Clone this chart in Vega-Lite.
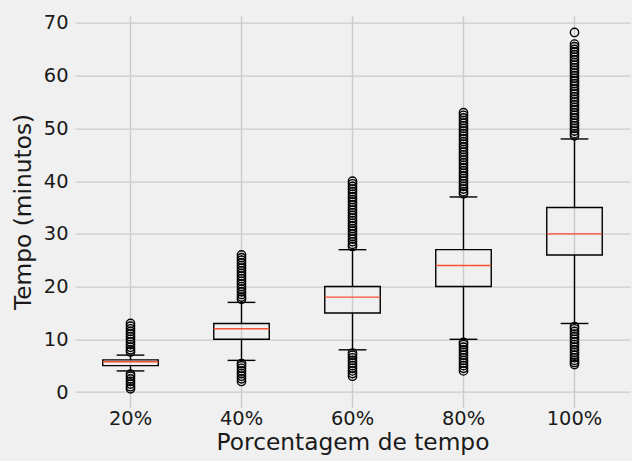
{
  "$schema": "https://vega.github.io/schema/vega-lite/v6.json",
  "width": 555,
  "height": 391.7,
  "autosize": {"type": "none"},
  "padding": {"left": 75, "top": 15.6, "right": 2, "bottom": 53.7},
  "background": "#f0f0f0",
  "config": {
    "view": {"stroke": null, "fill": "#f0f0f0"},
    "font": "DejaVu Sans",
    "axis": {
      "domain": false,
      "ticks": false,
      "grid": true,
      "gridColor": "#cbcbcb",
      "gridWidth": 1.4,
      "labelFont": "DejaVu Sans",
      "labelFontSize": 19.4,
      "labelColor": "#1a1a1a",
      "titleFont": "DejaVu Sans",
      "titleFontSize": 23.3,
      "titleFontWeight": "normal",
      "titleColor": "#1a1a1a"
    }
  },
  "datasets": {
    "stats": [
      {"pct": "20%", "lo": 4, "q1": 5, "med": 5.75, "q3": 6.1, "hi": 7},
      {"pct": "40%", "lo": 6, "q1": 10, "med": 12, "q3": 13, "hi": 17},
      {"pct": "60%", "lo": 8, "q1": 15, "med": 18, "q3": 20, "hi": 27},
      {"pct": "80%", "lo": 10, "q1": 20, "med": 24, "q3": 27, "hi": 37},
      {"pct": "100%", "lo": 13, "q1": 26, "med": 30, "q3": 35, "hi": 48}
    ],
    "fliers": [
      {"pct": "20%", "t": 0.6}, {"pct": "20%", "t": 1.0}, {"pct": "20%", "t": 1.5}, {"pct": "20%", "t": 2.0},
      {"pct": "20%", "t": 2.5}, {"pct": "20%", "t": 3.0}, {"pct": "20%", "t": 3.4},
      {"pct": "20%", "t": 7.6}, {"pct": "20%", "t": 8.0}, {"pct": "20%", "t": 8.5}, {"pct": "20%", "t": 9.0},
      {"pct": "20%", "t": 9.5}, {"pct": "20%", "t": 10.0}, {"pct": "20%", "t": 10.5}, {"pct": "20%", "t": 11.0},
      {"pct": "20%", "t": 11.5}, {"pct": "20%", "t": 12.0}, {"pct": "20%", "t": 12.5}, {"pct": "20%", "t": 13.0},

      {"pct": "40%", "t": 2.0}, {"pct": "40%", "t": 2.5}, {"pct": "40%", "t": 3.0}, {"pct": "40%", "t": 3.5},
      {"pct": "40%", "t": 4.0}, {"pct": "40%", "t": 4.5}, {"pct": "40%", "t": 5.0}, {"pct": "40%", "t": 5.4},
      {"pct": "40%", "t": 17.6}, {"pct": "40%", "t": 18.0}, {"pct": "40%", "t": 18.5}, {"pct": "40%", "t": 19.0},
      {"pct": "40%", "t": 19.5}, {"pct": "40%", "t": 20.0}, {"pct": "40%", "t": 20.5}, {"pct": "40%", "t": 21.0},
      {"pct": "40%", "t": 21.5}, {"pct": "40%", "t": 22.0}, {"pct": "40%", "t": 22.5}, {"pct": "40%", "t": 23.0},
      {"pct": "40%", "t": 23.5}, {"pct": "40%", "t": 24.0}, {"pct": "40%", "t": 24.5}, {"pct": "40%", "t": 25.0},
      {"pct": "40%", "t": 25.5}, {"pct": "40%", "t": 26.0},

      {"pct": "60%", "t": 3.0}, {"pct": "60%", "t": 3.5}, {"pct": "60%", "t": 4.0}, {"pct": "60%", "t": 4.5},
      {"pct": "60%", "t": 5.0}, {"pct": "60%", "t": 5.5}, {"pct": "60%", "t": 6.0}, {"pct": "60%", "t": 6.5},
      {"pct": "60%", "t": 7.0}, {"pct": "60%", "t": 7.4},
      {"pct": "60%", "t": 27.6}, {"pct": "60%", "t": 28.0}, {"pct": "60%", "t": 28.5}, {"pct": "60%", "t": 29.0},
      {"pct": "60%", "t": 29.5}, {"pct": "60%", "t": 30.0}, {"pct": "60%", "t": 30.5}, {"pct": "60%", "t": 31.0},
      {"pct": "60%", "t": 31.5}, {"pct": "60%", "t": 32.0}, {"pct": "60%", "t": 32.5}, {"pct": "60%", "t": 33.0},
      {"pct": "60%", "t": 33.5}, {"pct": "60%", "t": 34.0}, {"pct": "60%", "t": 34.5}, {"pct": "60%", "t": 35.0},
      {"pct": "60%", "t": 35.5}, {"pct": "60%", "t": 36.0}, {"pct": "60%", "t": 36.5}, {"pct": "60%", "t": 37.0},
      {"pct": "60%", "t": 37.5}, {"pct": "60%", "t": 38.0}, {"pct": "60%", "t": 38.5}, {"pct": "60%", "t": 39.0},
      {"pct": "60%", "t": 39.5}, {"pct": "60%", "t": 40.0},

      {"pct": "80%", "t": 4.0}, {"pct": "80%", "t": 4.5}, {"pct": "80%", "t": 5.0}, {"pct": "80%", "t": 5.5},
      {"pct": "80%", "t": 6.0}, {"pct": "80%", "t": 6.5}, {"pct": "80%", "t": 7.0}, {"pct": "80%", "t": 7.5},
      {"pct": "80%", "t": 8.0}, {"pct": "80%", "t": 8.5}, {"pct": "80%", "t": 9.0}, {"pct": "80%", "t": 9.4},
      {"pct": "80%", "t": 37.6}, {"pct": "80%", "t": 38.0}, {"pct": "80%", "t": 38.5}, {"pct": "80%", "t": 39.0},
      {"pct": "80%", "t": 39.5}, {"pct": "80%", "t": 40.0}, {"pct": "80%", "t": 40.5}, {"pct": "80%", "t": 41.0},
      {"pct": "80%", "t": 41.5}, {"pct": "80%", "t": 42.0}, {"pct": "80%", "t": 42.5}, {"pct": "80%", "t": 43.0},
      {"pct": "80%", "t": 43.5}, {"pct": "80%", "t": 44.0}, {"pct": "80%", "t": 44.5}, {"pct": "80%", "t": 45.0},
      {"pct": "80%", "t": 45.5}, {"pct": "80%", "t": 46.0}, {"pct": "80%", "t": 46.5}, {"pct": "80%", "t": 47.0},
      {"pct": "80%", "t": 47.5}, {"pct": "80%", "t": 48.0}, {"pct": "80%", "t": 48.5}, {"pct": "80%", "t": 49.0},
      {"pct": "80%", "t": 49.5}, {"pct": "80%", "t": 50.0}, {"pct": "80%", "t": 50.5}, {"pct": "80%", "t": 51.0},
      {"pct": "80%", "t": 51.5}, {"pct": "80%", "t": 52.0}, {"pct": "80%", "t": 52.5}, {"pct": "80%", "t": 53.0},

      {"pct": "100%", "t": 5.2}, {"pct": "100%", "t": 5.6}, {"pct": "100%", "t": 6.0}, {"pct": "100%", "t": 6.5},
      {"pct": "100%", "t": 7.0}, {"pct": "100%", "t": 7.5}, {"pct": "100%", "t": 8.0}, {"pct": "100%", "t": 8.5},
      {"pct": "100%", "t": 9.0}, {"pct": "100%", "t": 9.5}, {"pct": "100%", "t": 10.0}, {"pct": "100%", "t": 10.5},
      {"pct": "100%", "t": 11.0}, {"pct": "100%", "t": 11.5}, {"pct": "100%", "t": 12.0}, {"pct": "100%", "t": 12.4},
      {"pct": "100%", "t": 48.6}, {"pct": "100%", "t": 49.0}, {"pct": "100%", "t": 49.5}, {"pct": "100%", "t": 50.0},
      {"pct": "100%", "t": 50.5}, {"pct": "100%", "t": 51.0}, {"pct": "100%", "t": 51.5}, {"pct": "100%", "t": 52.0},
      {"pct": "100%", "t": 52.5}, {"pct": "100%", "t": 53.0}, {"pct": "100%", "t": 53.5}, {"pct": "100%", "t": 54.0},
      {"pct": "100%", "t": 54.5}, {"pct": "100%", "t": 55.0}, {"pct": "100%", "t": 55.5}, {"pct": "100%", "t": 56.0},
      {"pct": "100%", "t": 56.5}, {"pct": "100%", "t": 57.0}, {"pct": "100%", "t": 57.5}, {"pct": "100%", "t": 58.0},
      {"pct": "100%", "t": 58.5}, {"pct": "100%", "t": 59.0}, {"pct": "100%", "t": 59.5}, {"pct": "100%", "t": 60.0},
      {"pct": "100%", "t": 60.5}, {"pct": "100%", "t": 61.0}, {"pct": "100%", "t": 61.5}, {"pct": "100%", "t": 62.0},
      {"pct": "100%", "t": 62.5}, {"pct": "100%", "t": 63.0}, {"pct": "100%", "t": 63.5}, {"pct": "100%", "t": 64.0},
      {"pct": "100%", "t": 64.5}, {"pct": "100%", "t": 65.0}, {"pct": "100%", "t": 65.5}, {"pct": "100%", "t": 66.0},
      {"pct": "100%", "t": 68.2}
    ]
  },
  "encoding": {
    "x": {
      "field": "pct",
      "type": "nominal",
      "sort": ["20%", "40%", "60%", "80%", "100%"],
      "scale": {"type": "band", "paddingInner": 0.5, "paddingOuter": 0.25},
      "axis": {
        "title": "Porcentagem de tempo",
        "labelAngle": 0,
        "labelPadding": 2,
        "titlePadding": 4,
        "bandPosition": 0.5
      }
    }
  },
  "layer": [
    {
      "data": {"name": "stats"},
      "mark": {"type": "rule", "color": "black", "strokeWidth": 1.4},
      "encoding": {
        "y": {
          "field": "q3",
          "type": "quantitative",
          "scale": {"domain": [-2.9, 71.4], "nice": false, "zero": false},
          "axis": {
            "title": "Tempo (minutos)",
            "values": [0, 10, 20, 30, 40, 50, 60, 70],
            "labelPadding": 7,
            "titlePadding": 8
          }
        },
        "y2": {"field": "hi"}
      }
    },
    {
      "data": {"name": "stats"},
      "mark": {"type": "rule", "color": "black", "strokeWidth": 1.4},
      "encoding": {
        "y": {"field": "lo", "type": "quantitative"},
        "y2": {"field": "q1"}
      }
    },
    {
      "data": {"name": "stats"},
      "mark": {"type": "tick", "orient": "horizontal", "size": 27.75, "thickness": 1.4, "color": "black", "opacity": 1},
      "encoding": {"y": {"field": "hi", "type": "quantitative"}}
    },
    {
      "data": {"name": "stats"},
      "mark": {"type": "tick", "orient": "horizontal", "size": 27.75, "thickness": 1.4, "color": "black", "opacity": 1},
      "encoding": {"y": {"field": "lo", "type": "quantitative"}}
    },
    {
      "data": {"name": "stats"},
      "mark": {"type": "bar", "fill": "transparent", "stroke": "black", "strokeWidth": 1.4},
      "encoding": {
        "y": {"field": "q1", "type": "quantitative"},
        "y2": {"field": "q3"}
      }
    },
    {
      "data": {"name": "stats"},
      "mark": {"type": "tick", "orient": "horizontal", "size": 55.5, "thickness": 1.4, "color": "#fc4f30", "opacity": 1},
      "encoding": {"y": {"field": "med", "type": "quantitative"}}
    },
    {
      "data": {"name": "fliers"},
      "mark": {"type": "point", "shape": "circle", "filled": false, "size": 69, "stroke": "black", "strokeWidth": 1.4, "opacity": 1},
      "encoding": {"y": {"field": "t", "type": "quantitative"}}
    }
  ]
}
